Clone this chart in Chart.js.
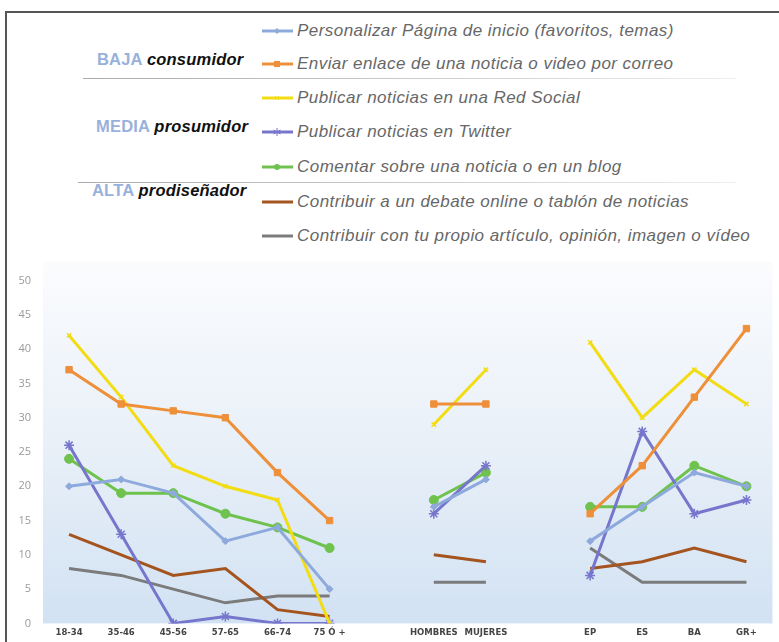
<!DOCTYPE html>
<html>
<head>
<meta charset="utf-8">
<script src="https://cdn.jsdelivr.net/npm/chart.js@4/dist/chart.umd.min.js"></script>
<style>
  html, body { margin: 0; padding: 0; background: #fff; }
  body { width: 779px; height: 642px; position: relative; overflow: hidden; }
  #frame { position: absolute; left: 5px; top: 11px; width: 800px; height: 700px; border: 2px solid #555; box-sizing: border-box; }
  #legend { position: absolute; left: 0; top: 0; width: 779px; height: 260px; font-family: "Liberation Sans", Arial, sans-serif; }
  .item { position: absolute; left: 262px; height: 22px; display: flex; align-items: center; font-size: 17px; font-style: italic; color: #676767; letter-spacing: 0.45px; white-space: nowrap; }
  .item svg { margin-right: 4px; flex: none; }
  .group { position: absolute; left: 96px; font-size: 16.5px; font-weight: bold; letter-spacing: 0.2px; white-space: nowrap; }
  .group .lvl { color: #98b1dc; }
  .group .who { color: #111; font-style: italic; }
  .sep { position: absolute; width: 655px; height: 1px; background: linear-gradient(to right, #aaa, #d8d8d8 70%, #eee); }
  #wrap { position: absolute; left: 0; top: 262px; width: 779px; height: 380px; }
</style>
</head>
<body>
<div id="frame"></div>
<div id="legend"></div>
<div id="wrap"><canvas id="chart"></canvas></div>
<script>
// categorias: edad, sexo, estudios (con huecos entre grupos)
const categories = ["18-34", "35-46", "45-56", "57-65", "66-74", "75 Ó +", "", "HOMBRES", "MUJERES", "", "EP", "ES", "BA", "GR+"];
const yTicks = [0, 5, 10, 15, 20, 25, 30, 35, 40, 45, 50];

const seriesNames = [
    "Personalizar Página de inicio (favoritos, temas)",
    "Enviar enlace de una noticia o video por correo",
    "Publicar noticias en una Red Social",
    "Publicar noticias en Twitter",
    "Comentar sobre una noticia o en un blog",
    "Contribuir a un debate online o tablón de noticias",
    "Contribuir con tu propio artículo, opinión, imagen o vídeo"
];

const personalizar = [20, 21, 19, 12, 14, 5, null, 17, 21, null, 12, 17, 22, 20];
const enviar       = [37, 32, 31, 30, 22, 15, null, 32, 32, null, 16, 23, 33, 43];
const redSocial    = [42, 33, 23, 20, 18, 0, null, 29, 37, null, 41, 30, 37, 32];
const twitter      = [26, 13, 0, 1, 0, 0, null, 16, 23, null, 7, 28, 16, 18];
const comentar     = [24, 19, 19, 16, 14, 11, null, 18, 22, null, 17, 17, 23, 20];
const debate       = [13, 10, 7, 8, 2, 1, null, 10, 9, null, 8, 9, 11, 9];
const articulo     = [8, 7, 5, 3, 4, 4, null, 6, 6, null, 11, 6, 6, 6];

const seriesData = [personalizar, enviar, redSocial, twitter, comentar, debate, articulo];
const colors = ["#8eaadc", "#ee8f3a", "#f2dc14", "#7676cc", "#6fc24e", "#a4541f", "#7b7b7b"];
const pointStyles = ["rectRot", "rect", "crossRot", "star", "circle", "circle", "circle"];
const pointSizes = [3.5, 4.5, 3, 5, 4.5, 0, 0];

// leyenda en HTML con los grupos BAJA / MEDIA / ALTA
const legend = document.getElementById("legend");
const rowY = [31, 64, 98, 132, 167, 202, 236];

function markerSvg(i) {
    const c = colors[i];
    let m = "";
    if (pointStyles[i] === "rectRot" && pointSizes[i]) m = `<path d="M15 6 L18 9 L15 12 L12 9 Z" fill="${c}"/>`;
    if (pointStyles[i] === "rect") m = `<rect x="12" y="6" width="6" height="6" fill="${c}"/>`;
    if (pointStyles[i] === "crossRot") m = `<path d="M13 7 L17 11 M17 7 L13 11" stroke="${c}" stroke-width="1"/>`;
    if (pointStyles[i] === "star") m = `<path d="M15 5 L15 13 M11.5 7 L18.5 11 M18.5 7 L11.5 11" stroke="${c}" stroke-width="1"/>`;
    if (pointStyles[i] === "circle" && pointSizes[i]) m = `<circle cx="15" cy="9" r="3" fill="${c}"/>`;
    return `<svg width="31" height="18"><line x1="0" y1="9" x2="31" y2="9" stroke="${c}" stroke-width="3"/>${m}</svg>`;
}

seriesNames.forEach((name, i) => {
    const div = document.createElement("div");
    div.className = "item";
    div.style.top = (rowY[i] - 11) + "px";
    div.innerHTML = markerSvg(i) + `<span>${name}</span>`;
    legend.appendChild(div);
});

const groups = [["BAJA", "consumidor", 60, 97], ["MEDIA", "prosumidor", 127, 96], ["ALTA", "prodiseñador", 191, 92]];
groups.forEach(([lvl, who, y, x]) => {
    const div = document.createElement("div");
    div.className = "group";
    div.style.top = (y - 10) + "px";
    div.style.left = x + "px";
    div.innerHTML = `<span class="lvl">${lvl}</span> <span class="who">${who}</span>`;
    legend.appendChild(div);
});

[[78, 83], [182, 78]].forEach(([y, x]) => {
    const s = document.createElement("div");
    s.className = "sep";
    s.style.top = y + "px";
    s.style.left = x + "px";
    s.style.width = (736 - x) + "px";
    legend.appendChild(s);
});

// fondo degradado del area del grafico
const areaBackground = {
    id: "areaBackground",
    beforeDraw(chart) {
        const { ctx, chartArea: a } = chart;
        const g = ctx.createLinearGradient(0, a.top - 20, 0, a.bottom);
        g.addColorStop(0, "#fbfcfe");
        g.addColorStop(0.5, "#e9f0f8");
        g.addColorStop(1, "#d2e2f3");
        ctx.save();
        ctx.fillStyle = g;
        ctx.fillRect(a.left, a.top - 20, a.right - a.left, a.bottom - a.top + 20);
        ctx.restore();
    }
};

const datasets = seriesData.map((data, i) => ({
    label: seriesNames[i],
    data: data,
    borderColor: colors[i],
    backgroundColor: colors[i],
    borderWidth: 3,
    pointStyle: pointStyles[i],
    pointRadius: pointSizes[i],
    pointBorderWidth: i === 2 || i === 3 ? 1.5 : 1,
    tension: 0,
    spanGaps: false
}));

new Chart(document.getElementById("chart"), {
    type: "line",
    data: { labels: categories, datasets: datasets },
    options: {
        responsive: true,
        maintainAspectRatio: false,
        animation: false,
        layout: { padding: { top: 4, right: 4, left: 0, bottom: 0 } },
        scales: {
            x: {
                offset: true,
                grid: { display: false, drawTicks: false },
                border: { display: false },
                ticks: {
                    color: "#444",
                    font: { family: "DejaVu Sans", size: 8.5, weight: "bold" },
                    maxRotation: 0,
                    autoSkip: false,
                    padding: 4
                }
            },
            y: {
                min: 0,
                max: 50,
                afterBuildTicks(scale) { scale.ticks = yTicks.map(v => ({ value: v })); },
                afterFit(scale) { scale.width = 43; },
                grid: { display: false, drawTicks: false },
                border: { display: false },
                ticks: {
                    color: "#9a9a9a",
                    font: { family: "Open Sans", size: 11 },
                    padding: 12
                }
            }
        },
        plugins: {
            legend: { display: false },
            tooltip: { enabled: false }
        }
    },
    plugins: [areaBackground]
});
</script>
</body>
</html>
